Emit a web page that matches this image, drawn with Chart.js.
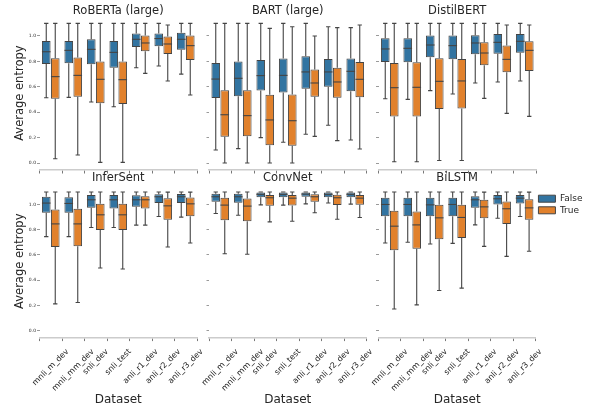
<!DOCTYPE html>
<html><head><meta charset="utf-8">
<script src="https://cdn.jsdelivr.net/npm/chart.js@4.4.1/dist/chart.umd.min.js"></script>
<style>
html,body{margin:0;padding:0;background:#fff;}
#wrap{position:relative;width:592px;height:412px;overflow:hidden;}
#wrap canvas{position:absolute;left:0;top:0;}
</style></head><body><div id="wrap"></div>
<script>
// ---------- data ----------
const DATASETS = ['mnli_m_dev','mnli_mm_dev','snli_dev','snli_test','anli_r1_dev','anli_r2_dev','anli_r3_dev'];
const HUES = ['False','True'];
const MODELS = ['RoBERTa (large)','BART (large)','DistilBERT','InferSent','ConvNet','BiLSTM'];
const Y_TICKS = [0.0,0.2,0.4,0.6,0.8,1.0];

// each entry: [whisker low, Q1, median, Q3, whisker high]
const ROBERTA_FALSE = [[0.514,0.78,0.876,0.96,1.099],[0.517,0.785,0.887,0.96,1.099],[0.48,0.777,0.895,0.974,1.099],[0.443,0.75,0.871,0.96,1.099],[0.75,0.913,0.974,1.02,1.099],[0.764,0.919,0.98,1.02,1.099],[0.70,0.892,0.974,1.026,1.099]];
const ROBERTA_TRUE  = [[0.034,0.506,0.68,0.824,1.099],[0.063,0.522,0.69,0.83,1.099],[0.005,0.47,0.659,0.80,1.099],[0.005,0.465,0.656,0.80,1.099],[0.706,0.88,0.945,1.003,1.099],[0.646,0.858,0.937,0.995,1.087],[0.535,0.811,0.924,1.003,1.099]];
const BART_FALSE = [[0.102,0.512,0.661,0.787,1.099],[0.113,0.525,0.667,0.80,1.099],[0.20,0.57,0.688,0.81,1.099],[0.163,0.556,0.69,0.822,1.099],[0.226,0.585,0.717,0.84,1.099],[0.297,0.60,0.717,0.819,1.073],[0.181,0.565,0.722,0.822,1.066]];
const BART_TRUE  = [[0.0,0.207,0.38,0.572,1.099],[0.0,0.21,0.373,0.572,1.099],[0.0,0.139,0.339,0.538,1.06],[0.0,0.136,0.333,0.54,1.073],[0.21,0.522,0.63,0.737,1.0],[0.176,0.514,0.638,0.75,1.066],[0.11,0.517,0.659,0.795,1.087]];
const DISTIL_FALSE = [[0.506,0.795,0.898,0.982,1.099],[0.501,0.793,0.903,0.982,1.099],[0.57,0.832,0.929,1.003,1.099],[0.543,0.816,0.924,1.003,1.099],[0.63,0.856,0.945,1.005,1.099],[0.638,0.861,0.95,1.016,1.099],[0.646,0.869,0.958,1.016,1.099]];
const DISTIL_TRUE  = [[0.01,0.367,0.593,0.787,1.099],[0.01,0.367,0.596,0.793,1.099],[0.02,0.425,0.643,0.824,1.099],[0.02,0.43,0.646,0.819,1.099],[0.509,0.769,0.866,0.95,1.099],[0.391,0.714,0.816,0.926,1.087],[0.367,0.724,0.887,0.958,1.087]];
const INFERSENT_FALSE = [[0.745,0.934,1.011,1.061,1.099],[0.745,0.934,1.008,1.058,1.099],[0.817,0.973,1.037,1.074,1.099],[0.817,0.968,1.037,1.074,1.099],[0.836,0.981,1.037,1.072,1.099],[0.905,1.011,1.061,1.08,1.099],[0.90,1.011,1.061,1.082,1.099]];
const INFERSENT_TRUE  = [[0.212,0.663,0.846,0.96,1.099],[0.223,0.668,0.846,0.966,1.099],[0.496,0.798,0.918,1.005,1.099],[0.488,0.798,0.918,1.005,1.099],[0.836,0.968,1.037,1.066,1.099],[0.663,0.878,0.989,1.05,1.098],[0.695,0.907,1.005,1.056,1.098]];
const CONVNET_FALSE = [[0.928,1.021,1.061,1.085,1.099],[0.915,1.013,1.061,1.085,1.099],[0.997,1.058,1.08,1.095,1.099],[0.995,1.058,1.08,1.095,1.099],[1.005,1.061,1.082,1.095,1.099],[1.011,1.058,1.08,1.095,1.099],[1.003,1.058,1.08,1.095,1.099]];
const CONVNET_TRUE  = [[0.61,0.875,0.995,1.053,1.099],[0.605,0.867,0.987,1.048,1.099],[0.862,0.989,1.053,1.074,1.099],[0.867,0.992,1.05,1.074,1.099],[0.934,1.021,1.061,1.08,1.099],[0.883,0.995,1.053,1.077,1.099],[0.897,0.997,1.05,1.074,1.099]];
const BILSTM_FALSE = [[0.695,0.907,1.0,1.053,1.099],[0.70,0.907,1.0,1.053,1.099],[0.687,0.907,0.997,1.053,1.099],[0.692,0.907,1.0,1.053,1.099],[0.838,0.973,1.037,1.066,1.099],[0.891,1.0,1.045,1.074,1.099],[0.905,1.008,1.05,1.074,1.099]];
const BILSTM_TRUE  = [[0.172,0.637,0.828,0.95,1.099],[0.204,0.65,0.838,0.944,1.099],[0.318,0.724,0.894,0.997,1.099],[0.337,0.735,0.897,0.997,1.099],[0.668,0.891,0.981,1.037,1.098],[0.589,0.846,0.966,1.024,1.099],[0.629,0.878,0.973,1.042,1.098]];

const PANEL_STATS = [
  [ROBERTA_FALSE, ROBERTA_TRUE],
  [BART_FALSE, BART_TRUE],
  [DISTIL_FALSE, DISTIL_TRUE],
  [INFERSENT_FALSE, INFERSENT_TRUE],
  [CONVNET_FALSE, CONVNET_TRUE],
  [BILSTM_FALSE, BILSTM_TRUE]
];

// ---------- style / layout ----------
const FONT = 'DejaVu Sans';
const TEXT = '#262626';
const COLORS = ['#3274a1','#e1812c'];
const EDGE = '#444444';
const COL_LEFT = [39.5, 209, 378.5];
const PLOT_W = 157.5;
const ROW_TOP = [16.3, 184.9];
const ROW_BOTTOM = [170, 337.6];
const TITLE_Y = [11, 178.5];
const TITLE_SIZE = 11.5, TITLE_LH = 0.8;

Chart.defaults.font.family = FONT;
Chart.defaults.color = TEXT;

const boxPlugin = {
  id: 'boxParts',
  beforeDatasetsDraw(chart) { drawParts(chart, 'whisker'); },
  afterDatasetsDraw(chart) { drawParts(chart, 'median'); }
};
function drawParts(chart, part) {
  const ctx = chart.ctx, ys = chart.scales.y;
  chart.data.datasets.forEach((ds, di) => {
    const meta = chart.getDatasetMeta(di);
    meta.data.forEach((bar, j) => {
      const s = ds.stats[j];
      const x = bar.x, w = bar.width;
      ctx.save();
      ctx.strokeStyle = EDGE;
      ctx.lineWidth = 1.1;
      ctx.beginPath();
      if (part === 'whisker') {
        const yl = ys.getPixelForValue(s[0]), y1 = ys.getPixelForValue(s[1]);
        const y3 = ys.getPixelForValue(s[3]), yh = ys.getPixelForValue(s[4]);
        const cw = w * 0.25;
        ctx.moveTo(x, y3); ctx.lineTo(x, yh);
        ctx.moveTo(x, y1); ctx.lineTo(x, yl);
        ctx.moveTo(x - cw, yh); ctx.lineTo(x + cw, yh);
        ctx.moveTo(x - cw, yl); ctx.lineTo(x + cw, yl);
      } else {
        const ym = ys.getPixelForValue(s[2]);
        ctx.moveTo(x - w / 2, ym); ctx.lineTo(x + w / 2, ym);
      }
      ctx.stroke();
      ctx.restore();
    });
  });
}

const xLabelPlugin = {
  id: 'xLabels',
  afterDraw(chart, args, opts) {
    if (!opts.show) return;
    const xs = chart.scales.x, ctx = chart.ctx;
    const h = 9.3, k = Math.SQRT1_2;
    chart.data.labels.forEach((lab, i) => {
      ctx.save();
      ctx.font = '8px "' + FONT + '"';
      ctx.fillStyle = TEXT;
      ctx.textAlign = 'center';
      ctx.textBaseline = 'middle';
      const px = xs.getPixelForTick(i);
      const L = ctx.measureText(lab).width;
      const bh = (L + h) * k;
      const cy = xs.top + 9.5 + bh / 2;
      ctx.translate(px, cy);
      ctx.rotate(-Math.PI / 4);
      ctx.fillText(lab, 0, 0);
      ctx.restore();
    });
  }
};

function fitArea(chart, t) {
  for (let k = 0; k < 4; k++) {
    const a = chart.chartArea, p = chart.options.layout.padding;
    const dl = t.left - a.left, dr = a.right - t.right, dt = t.top - a.top, db = a.bottom - t.bottom;
    if (Math.abs(dl) + Math.abs(dr) + Math.abs(dt) + Math.abs(db) < 0.05) break;
    p.left += dl; p.right += dr; p.top += dt; p.bottom += db;
    chart.update('none');
  }
}

const wrap = document.getElementById('wrap');
MODELS.forEach((name, i) => {
  const r = Math.floor(i / 3), c = i % 3;
  const t = { left: COL_LEFT[c], right: COL_LEFT[c] + PLOT_W, top: ROW_TOP[r], bottom: ROW_BOTTOM[r] };
  const padLeft = c === 0 ? 12 : COL_LEFT[c] - 10;
  const yW = t.left - padLeft;
  const tH = TITLE_SIZE * TITLE_LH;
  const padTop = TITLE_Y[r] - tH / 2;
  const titlePadBottom = t.top - (padTop + tH);
  const xH = 412 - t.bottom;
  const stats = PANEL_STATS[i];

  const canvas = document.createElement('canvas');
  canvas.width = 592; canvas.height = 412;
  canvas.style.width = '592px'; canvas.style.height = '412px';
  wrap.appendChild(canvas);

  const chart = new Chart(canvas, {
    type: 'bar',
    data: {
      labels: DATASETS,
      datasets: HUES.map((hue, k) => ({
        label: hue,
        data: stats[k].map(s => [s[1], s[3]]),
        stats: stats[k],
        backgroundColor: COLORS[k],
        borderColor: EDGE,
        borderWidth: 1,
        borderSkipped: false,
        categoryPercentage: 0.8,
        barPercentage: 0.96
      }))
    },
    plugins: [boxPlugin, xLabelPlugin],
    options: {
      responsive: false,
      animation: false,
      events: [],
      layout: { padding: { left: padLeft, right: 592 - t.right, top: padTop, bottom: 0 } },
      plugins: {
        tooltip: { enabled: false },
        xLabels: { show: r === 1 },
        title: {
          display: true, text: name, fullSize: false, color: TEXT,
          font: { family: FONT, size: TITLE_SIZE, weight: 'normal', lineHeight: TITLE_LH },
          padding: { top: 0, bottom: titlePadBottom }
        },
        legend: {
          display: i === 5,
          position: 'right', align: 'start', fullSize: false,
          title: { display: true, text: ' ', font: { size: 1, lineHeight: 1.2 }, padding: { top: 5.5, bottom: 0 } },
          labels: { boxWidth: 17, boxHeight: 7, padding: 2.6, color: TEXT, font: { family: FONT, size: 9 } }
        }
      },
      scales: {
        x: {
          type: 'category', offset: true,
          grid: { display: true, drawOnChartArea: false, drawTicks: true, tickLength: 3.5, tickColor: '#555555', tickWidth: 0.8 },
          border: { display: true, color: '#cccccc', width: 1.5 },
          ticks: { display: false },
          title: r === 1
            ? { display: true, text: 'Dataset', color: TEXT, font: { family: FONT, size: 12, lineHeight: 1.2 }, padding: { top: 0, bottom: 5.3 } }
            : { display: false },
          afterFit(s) { s.height = xH; }
        },
        y: {
          min: -0.055, max: 1.155,
          afterBuildTicks(s) { s.ticks = Y_TICKS.map(v => ({ value: v })); },
          grid: { display: true, drawOnChartArea: false, drawTicks: true, tickLength: 2.5, tickColor: '#555555', tickWidth: 0.6 },
          border: { display: false },
          ticks: { display: c === 0, color: TEXT, padding: 1, font: { family: FONT, size: 4.5 }, callback: v => Number(v).toFixed(1) },
          title: c === 0
            ? { display: true, text: 'Average entropy', color: TEXT, font: { family: FONT, size: 11.5, lineHeight: 1.2 }, padding: { top: 1, bottom: 0 } }
            : { display: false },
          afterFit(s) { s.width = yW; }
        }
      }
    }
  });
  fitArea(chart, t);
});
</script>
</body></html>
